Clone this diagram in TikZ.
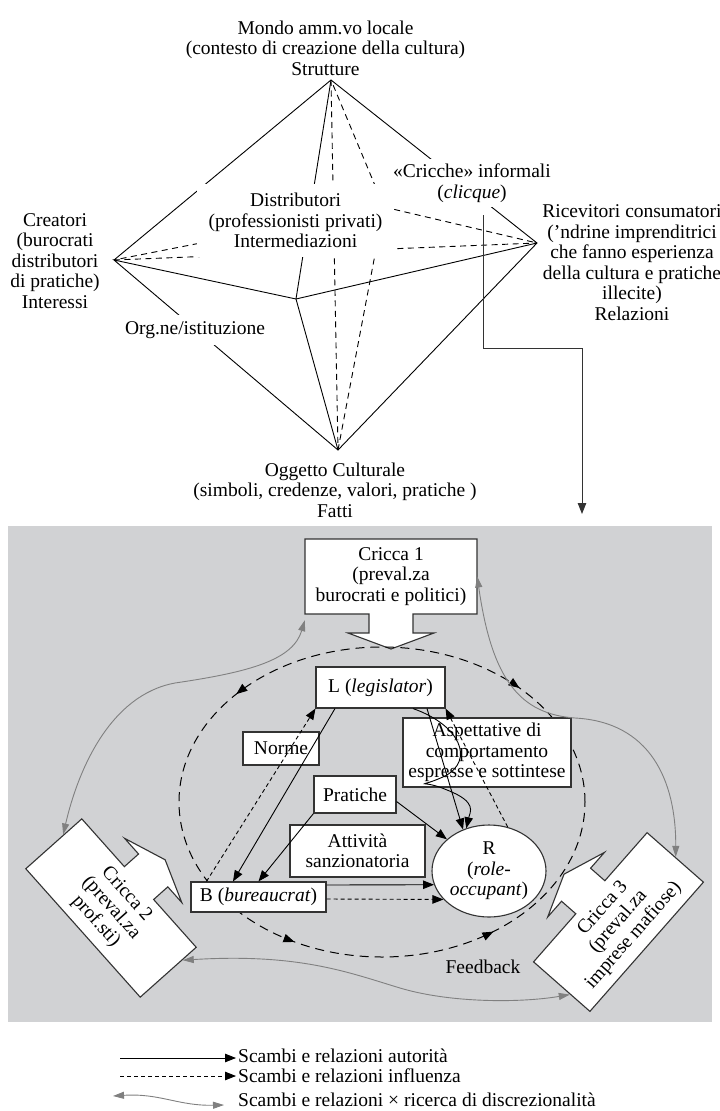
\documentclass[tikz,border=0pt]{standalone}
\usepackage{fontspec}
\setmainfont{Liberation Serif}
\usetikzlibrary{arrows.meta,shapes.geometric,decorations.markings,calc}
\definecolor{bandgray}{RGB}{209,210,212}
\definecolor{linkgray}{RGB}{128,128,128}
\definecolor{framegray}{RGB}{51,51,51}
\tikzset{
  txt/.style={align=center,font=\fontsize{19.5}{20.5}\selectfont,inner sep=0pt},
  cover/.style={txt,fill=white,inner sep=4pt},
  pline/.style={line width=0.9pt},
  hidden/.style={pline,dash pattern=on 6pt off 4.5pt},
  cbox/.style={draw=framegray,fill=white,line width=1.1pt},
  tbox/.style={txt,cbox},
  auth/.style={line width=0.9pt,-{Triangle[length=11pt,width=8.5pt]}},
  infl/.style={auth,dash pattern=on 4pt off 3pt},
  discr/.style={linkgray,line width=0.9pt,{Triangle[length=11pt,width=7pt]}-{Triangle[length=11pt,width=7pt]}},
  loopline/.style={line width=1pt,dash pattern=on 9pt off 6pt},
  cricca/.pic={
    \draw[cbox] (-86,-37.5) -- (86,-37.5) -- (86,37.5) -- (22,37.5) -- (22,56.5)
      -- (43,56.5) -- (0,72.5) -- (-43,56.5) -- (-22,56.5) -- (-22,37.5)
      -- (-86,37.5) -- cycle;
  }
}
\begin{document}
\begin{tikzpicture}[x=1pt,y=-1pt]
  \useasboundingbox (0,0) rectangle (720,1111);
  % 背景
  \fill[bandgray] (8,526) rectangle (712,1022);

  % 八面体の頂点
  \coordinate (vT) at (331,80);
  \coordinate (vL) at (114,260);
  \coordinate (vR) at (537,243);
  \coordinate (vB) at (338,450);
  \coordinate (vF) at (296,299);
  \coordinate (vK) at (384,207);
  % 辺
  \draw[pline] (vL) -- (vT) -- (vR) -- (vB) -- (vL) -- (vF) -- (vR);
  \draw[pline] (vT) -- (vF) -- (vB);
  \draw[hidden] (vT) -- (vB);
  \draw[hidden] (vL) -- (vR);
  \draw[hidden] (vK) -- (vT) (vK) -- (vB) (vK) -- (vL) (vK) -- (vR);

  % 頂点のラベル
  \node[txt] (mondo) at (325.5,48) {Mondo amm.vo locale\\(contesto di creazione della cultura)\\Strutture};
  \node[txt] (creat) at (55,261) {Creatori\\(burocrati\\distributori\\di pratiche)\\Interessi};
  \node[txt] (ogg) at (335,490) {Oggetto Culturale\\(simboli, credenze, valori, pratiche )\\Fatti};
  \node[cover,minimum width=197pt,minimum height=73pt] (distr) at (295.5,220.5) {Distributori\\(professionisti privati)\\Intermediazioni};
  \node[cover,inner xsep=1pt,inner ysep=5pt] (cricche) at (472,183) {«Cricche» informali\\(\textit{clicque})};
  \node[cover,inner ysep=6pt] (org) at (195,330) {Org.ne/istituzione};
  \node[txt] (ricev) at (632,262.5) {Ricevitori consumatori\\(’ndrine imprenditrici\\che fanno esperienza\\della cultura e pratiche\\illecite)\\Relazioni};

  % cricche -> sotto
  \coordinate (bend) at (483,348);
  \coordinate (drop) at (582,514);
  \draw[line width=1pt,draw=framegray,-{Triangle[length=11pt,width=8.5pt]},shorten <=8pt] (cricche.south -| bend) -- (bend) -| (drop);

  % cricche (forme)
  \pic at (391,576.5) {cricca};
  \pic[rotate=131.7] at (111,908) {cricca};
  \pic[rotate=228.7] at (618.5,922) {cricca};
  \node[txt,minimum width=172pt,minimum height=75pt] (c1) at (391,576.5) {Cricca 1\\(preval.za\\burocrati e politici)};
  \node[txt,rotate=-48.3,minimum width=173pt,minimum height=75pt] (c2) at (111,908) {Cricca 2\\(preval.za\\prof.sti)};
  \node[txt,rotate=48.7,minimum width=173pt,minimum height=75pt] (c3) at (618.5,922) {Cricca 3\\(preval.za\\imprese mafiose)};

  % feedback
  \coordinate (loopc) at (382,802);
  \draw[loopline,postaction={decorate},decoration={markings,
      mark=at position 0.121 with {\arrowreversed{Triangle[length=11pt,width=8.5pt]}},
      mark=at position 0.388 with {\arrow{Triangle[length=11pt,width=8.5pt]}},
      mark=at position 0.671 with {\arrow{Triangle[length=11pt,width=8.5pt]}},
      mark=at position 0.852 with {\arrow{Triangle[length=11pt,width=8.5pt]}}}]
    (loopc) ellipse [x radius=203pt,y radius=155pt];

  % ruoli
  \node[tbox,minimum width=129pt,minimum height=41pt] (L) at (380.5,687.5) {L (\textit{legislator})};
  \node[tbox,minimum width=76pt,minimum height=33pt] (norme) at (281,748.5) {Norme};
  \node[tbox,minimum width=82pt,minimum height=37pt] (prat) at (355,794.5) {Pratiche};
  \node[tbox,minimum width=135pt,minimum height=52pt] (att) at (357.5,851) {Attività\\sanzionatoria};
  \node[tbox,minimum width=135pt,minimum height=30pt] (B) at (258.5,897) {B (\textit{bureaucrat})};
  \node[tbox,ellipse,minimum width=114pt,minimum height=92pt] (R) at (489,871) {R\\(\textit{role-}\\\textit{occupant})};
  \node[tbox,minimum width=168pt,minimum height=69pt] (asp) at (487,752.5) {Aspettative di\\comportamento\\espresse e sottintese};
  \node[txt] (fb) at (483,967) {Feedback};

  % relazioni autorità
  \draw[auth] ([xshift=-45.5pt]L.south) -- ([xshift=-25.5pt]B.north);
  \draw[auth] (prat.south west) -- (B.north);
  \draw[auth] ([yshift=-7pt]prat.east) -- (R.143);
  \draw[auth] ([yshift=12pt]B.east) -- (R.194);
  \draw[auth] ([xshift=46.5pt]L.south) -- (R.122);
  \draw[auth] ([xshift=32.5pt]L.south) .. controls (460,725) and (475,760) .. (445,776)
    .. controls (415,790) and (420,778) .. (447,790) .. controls (478,802) and (470,812) .. (R.118);
  % relazioni influenza
  \draw[infl] ([xshift=16pt]B.north west) -- (L.south west);
  \draw[infl] (R.67) -- (L.south east);
  \draw[infl] ([yshift=-2pt]B.east) -- (R.212);

  % scambi tra le cricche
  \draw[discr] ($(c2.west)!0.35!(c2.north west)$) .. controls (78,770) and (110,695) .. (175,683)
    .. controls (250,672) and (293,660) .. ([yshift=-6pt]c1.south west);
  \draw[discr] (c1.east) .. controls (492,680) and (520,714) .. (575,718)
    .. controls (650,722) and (676,780) .. (c3.east);
  \draw[discr] ($(c2.east)!0.5!(c2.north east)$) .. controls (300,953) and (350,973) .. (400,988)
    .. controls (450,1003) and (520,1003) .. ($(c3.west)!0.3!(c3.south west)$);

  % legenda
  \coordinate (k1a) at (120,1058);
  \coordinate (k1b) at (236,1058);
  \coordinate (k2a) at (120,1076);
  \coordinate (k2b) at (236,1076);
  \coordinate (k3a) at (113,1096);
  \coordinate (k3b) at (224,1105);
  \draw[auth] (k1a) -- (k1b);
  \draw[infl] (k2a) -- (k2b);
  \draw[discr] (k3a) .. controls (160,1093) and (178,1106) .. (k3b);
  \node[txt,anchor=west] (key1) at (238,1056) {Scambi e relazioni autorità};
  \node[txt,anchor=west] (key2) at (238,1076) {Scambi e relazioni influenza};
  \node[txt,anchor=west] (key3) at (238,1100) {Scambi e relazioni × ricerca di discrezionalità};
\end{tikzpicture}
\end{document}
